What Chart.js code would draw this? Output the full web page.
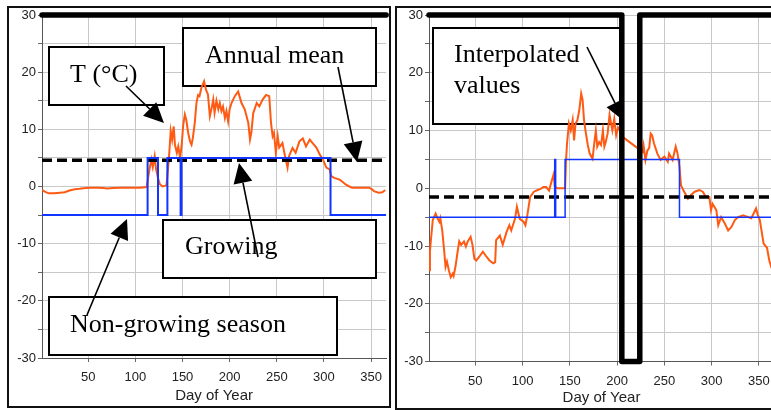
<!DOCTYPE html>
<html>
<head>
<meta charset="utf-8">
<script src="https://cdn.jsdelivr.net/npm/chart.js@4.4.1/dist/chart.umd.min.js"></script>
<style>
body{margin:0;width:771px;height:410px;overflow:hidden;background:#fff;position:relative;}
.frame{position:absolute;border:2px solid #111;box-sizing:border-box;}
canvas{position:absolute;top:0;}
</style>
</head>
<body>
<div class="frame" style="left:7px;top:6px;width:384px;height:402px;"></div>
<div class="frame" style="left:395px;top:6px;width:390px;height:404px;"></div>
<canvas id="leftChart" width="390" height="410" style="left:0"></canvas>
<canvas id="rightChart" width="390" height="410" style="left:392px"></canvas>
<script>
/* DATA: [day of year, T in °C] */
const leftTemp=[
[1,-0.6],[4,-0.9],[8,-1.2],[14,-1.2],[20,-1.1],[25,-1.0],[31,-0.65],[36,-0.5],[41,-0.4],[47,-0.25],
[52,-0.2],[60,-0.2],[66,-0.25],[70,-0.35],[76,-0.25],[85,-0.2],[95,-0.2],[105,-0.2],[112,-0.1],[113,1],
[115,3],[117,4.7],[118.5,3.4],[120.5,5.3],[122,3],[124,1.5],[126,0.4],[129,0],[133,0.2],[134.6,3],
[136,5.9],[137.5,9.7],[139,8.2],[140.7,10.5],[142,7.3],[144,5.9],[145.5,7],[147.5,5],[149,7],[150.8,10.8],
[152.5,12.6],[154,11.7],[156,9.4],[158,7.9],[159.6,7.3],[161,8.5],[163,11.1],[164.8,14.6],[166.5,16],[168,15.8],
[170,17.2],[172.9,18.4],[175,16.9],[177,16.1],[179,12.3],[181,13.8],[182.6,15.2],[184,12.9],[186,15],[188,13.5],
[189.6,14.6],[191.3,13.2],[193,14],[195,12],[196.6,13.2],[198.4,11.4],[200,13.5],[202,14.6],[205.5,15.8],[209,16.6],
[211,15.5],[212.6,14.6],[216,13.5],[219.8,11.1],[221.6,8.2],[223,9.4],[225,12.8],[228.7,14.6],[231.5,14],[235,15.2],
[238.6,16],[242,15.8],[243.9,11.1],[245.6,8.8],[247,9.4],[249,5.9],[251,8.8],[252.6,6.8],[256,7.6],[258,5.9],
[261.4,3.3],[263,5.3],[266.7,6.75],[270,5.9],[274,7.9],[277.6,8.4],[281,7],[285,8.2],[288,7.6],[292,6.8],
[295.6,5.6],[299,4.7],[302.6,3.3],[306,3.0],[307.8,1.8],[311,1.5],[316.6,1.2],[320,0.8],[323,0.35],[327,0],
[330,-0.2],[340,-0.2],[348,-0.2],[351,-0.5],[353,-0.8],[358,-1.1],[362,-1.0],[365,-0.6]
];
const rightTemp=[
[1,-14.2],[2,-11],[3,-9],[5,-5.5],[8,-4.4],[10,-5.2],[12,-5.8],[13,-5.2],[15,-7.3],[17,-10.7],
[18.5,-13.6],[20,-12.7],[22,-14.2],[24,-15.4],[26,-14.8],[27,-15.2],[29,-13.6],[31,-11.3],[33,-9.2],[35,-9.8],
[38,-9.2],[40,-10.1],[42,-9.2],[45,-8.4],[47,-9.8],[49,-12.2],[51,-12.5],[54,-11.9],[58,-11],[62,-11.9],
[65,-12.5],[69,-13],[71,-12.8],[72,-9],[76,-8.2],[79,-9.8],[83,-7.6],[86,-6.4],[88,-7.3],[92,-5.3],
[94,-3.2],[97,-5.3],[101,-5.8],[103,-6.4],[105,-4.7],[108,-1.5],[112,-0.6],[116,-0.3],[119,-0.1],[122,0.2],
[125,0.2],[128,-0.4],[131,1.4],[133,2.5],[134,0.3],[137,0],[141,0],[145,0],[146,4.9],[147,7.7],
[149,11.2],[151,10],[153,11.8],[154.5,8.3],[156,11.2],[158,11.8],[160,13.5],[162,16.4],[163.5,15.3],[165,11.8],
[167,9.5],[169,7.5],[171,6],[174,5.1],[176,8],[177.5,10],[179,7.2],[181,8],[183,7.5],[185,10],
[186.5,7.2],[188,8],[190,9.5],[192,12.7],[195,10],[197,12],[199,9.2],[201,10.5],[203,10],[205,9],
[227,6.3],[228,7.4],[230,4.9],[232,6.5],[234,7],[235.5,9.5],[237,9.2],[239,7.8],[242.6,6],[246,4.9],
[250,5.5],[253.6,4.6],[255,6],[258.7,4.9],[262,7.2],[264,6],[266,3.7],[267.6,0.5],[271,-0.6],[275,-1.8],
[278,-1.2],[282,-0.6],[287,-0.3],[290.6,-0.6],[294,-1.5],[297.6,-1.5],[299.4,-3.8],[301,-2.7],[305,-3.8],[307,-6.4],
[310,-5],[314,-6.1],[317.5,-7.3],[321,-6.7],[324.6,-5.5],[328,-5],[333.5,-4.7],[338.7,-5],[342,-5.2],[347,-3.5],
[349,-4.7],[351,-5.5],[355,-9.6],[358.6,-10.3],[361,-12.5],[363,-13.6],[365,-14.5]
];

/* growing season flag: +5 growing, -5 not (value holds until the next day listed) */
const leftSeasonDays=[1,113,124,134,148,149,307,366];
const leftSeasonVals=[-5,5,-5,5,-5,5,-5,-5];
const rightSeasonDays=[1,134,135,145,266,366];
const rightSeasonVals=[-5,5,-5,5,-5,-5];

const leftMean=4.6;
const rightMean=-1.5;

/* thick hand-drawn marks */
const leftMarkDays=[1,366];
const leftMarkVals=[30,30];
const rightMarkDays=[1,205,205,224,224,366];
const rightMarkVals=[30,30,-30,-30,30,30];

const dayTicks=[50,100,150,200,250,300,350];
const dayMin=1, dayMax=366;

function pairs(xs,ys){ return xs.map((x,i)=>({x:x,y:ys[i]})); }
function pts(list){ return list.map(p=>({x:p[0],y:p[1]})); }

/* text boxes and arrows, page pixels */
function notes(boxes,arrows,dx){
    function arrow(ctx,x1,y1,x2,y2){
        let a=Math.atan2(y2-y1,x2-x1), L=20, W=9.5;
        let bx=x2-L*Math.cos(a), by=y2-L*Math.sin(a);
        ctx.beginPath();
        ctx.moveTo(x1,y1); ctx.lineTo(bx,by);
        ctx.lineWidth=1.6; ctx.strokeStyle="#000"; ctx.stroke();
        ctx.beginPath();
        ctx.moveTo(x2,y2);
        ctx.lineTo(bx+W*Math.sin(a),by-W*Math.cos(a));
        ctx.lineTo(bx-W*Math.sin(a),by+W*Math.cos(a));
        ctx.closePath(); ctx.fillStyle="#000"; ctx.fill();
    }
    return {
        id:"notes",
        beforeDatasetsDraw(chart){
            let ctx=chart.ctx;
            ctx.save();
            boxes.forEach(b=>{
                ctx.fillStyle="#fff";
                ctx.fillRect(b.x1-dx,b.y1,b.x2-b.x1,b.y2-b.y1);
                ctx.lineWidth=2; ctx.strokeStyle="#000";
                ctx.strokeRect(b.x1-dx,b.y1,b.x2-b.x1,b.y2-b.y1);
                ctx.fillStyle="#000";
                ctx.font='26px "Liberation Serif"';
                ctx.textBaseline="alphabetic";
                b.lines.forEach((t,i)=>ctx.fillText(t,b.tx-dx,b.ty[i]));
            });
            ctx.restore();
        },
        afterDatasetDraw(chart,args){
            if(args.index!==1) return;
            let ctx=chart.ctx;
            ctx.save();
            arrows.forEach(a=>arrow(ctx,a[0]-dx,a[1],a[2]-dx,a[3]));
            ctx.restore();
        }
    };
}

function buildChart(id,d){
    let tickFont={family:"Liberation Sans",size:13};
    return new Chart(document.getElementById(id),{
        type:"line",
        data:{datasets:[
            {data:pairs(d.markDays,d.markVals),borderColor:"#000",borderWidth:5.5,
             borderCapStyle:"round",borderJoinStyle:"round",pointRadius:0,clip:false},
            {data:pairs(d.seasonDays,d.seasonVals),stepped:"before",borderColor:"#1236ff",
             borderWidth:d.seasonWidth,pointRadius:0},
            {data:[{x:dayMin,y:d.mean},{x:dayMax,y:d.mean}],borderColor:"#000",borderWidth:3.5,
             borderDash:[10,5],pointRadius:0},
            {data:pts(d.temp),borderColor:"#ff5a14",borderWidth:2,pointRadius:0}
        ]},
        options:{
            responsive:false,
            animation:false,
            layout:{padding:d.pad},
            plugins:{legend:{display:false},tooltip:{enabled:false}},
            scales:{
                x:{
                    type:"linear",min:dayMin,max:dayMax,
                    afterBuildTicks:s=>{ s.ticks=dayTicks.map(v=>({value:v})); },
                    afterFit:s=>{ s.height=d.xAxisH; },
                    ticks:{autoSkip:false,maxRotation:0,color:"#222",font:tickFont,padding:8},
                    grid:{color:"#c8c8c8",tickLength:4,tickColor:"#666"},
                    border:{color:"#555"},
                    title:{display:true,text:"Day of Year",color:"#222",
                           font:{family:"Liberation Sans",size:15},padding:{top:2,bottom:3}}
                },
                y:{
                    min:-30,max:30,
                    afterFit:s=>{ s.width=34; },
                    ticks:{stepSize:5,autoSkip:false,color:"#222",font:tickFont,padding:2,
                           callback:v=>v%10===0?v:""},
                    grid:{color:"#c8c8c8",tickLength:4,tickColor:"#666"},
                    border:{color:"#555"}
                }
            }
        },
        plugins:[notes(d.boxes,d.arrows,d.dx)]
    });
}

buildChart("leftChart",{
    temp:leftTemp, seasonDays:leftSeasonDays, seasonVals:leftSeasonVals, seasonWidth:2,
    mean:leftMean, markDays:leftMarkDays, markVals:leftMarkVals,
    pad:{left:8,right:2,top:15,bottom:2}, xAxisH:50, dx:0,
    boxes:[
        {x1:49,y1:47,x2:164,y2:105,lines:["T (°C)"],tx:70,ty:[82]},
        {x1:183,y1:28,x2:376,y2:86,lines:["Annual mean"],tx:205,ty:[63]},
        {x1:163,y1:220,x2:376,y2:278,lines:["Growing"],tx:185,ty:[254]},
        {x1:49,y1:297,x2:337,y2:355,lines:["Non-growing season"],tx:70,ty:[332]}
    ],
    arrows:[[126,86,164,123],[338,67,357,162],[258,257,239,163],[87,315,127,219]]
});

buildChart("rightChart",{
    temp:rightTemp, seasonDays:rightSeasonDays, seasonVals:rightSeasonVals, seasonWidth:1.5,
    mean:rightMean, markDays:rightMarkDays, markVals:rightMarkVals,
    pad:{left:3,right:8,top:15,bottom:0}, xAxisH:48.5, dx:392,
    boxes:[
        {x1:433,y1:28,x2:620,y2:124,lines:["Interpolated","values"],tx:454,ty:[62,93]}
    ],
    arrows:[[587,47,624,121]]
});
</script>
</body>
</html>
